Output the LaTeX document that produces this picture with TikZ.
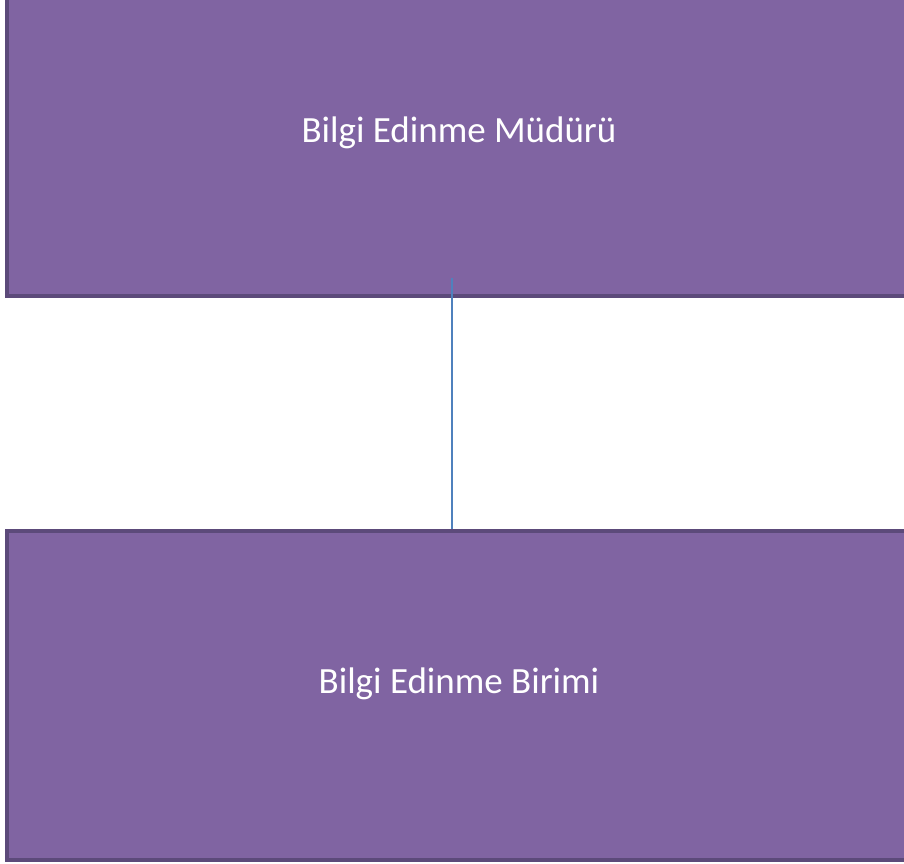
\documentclass[tikz,border=0pt]{standalone}
\usepackage{fontspec}
\setmainfont{Carlito}
\usetikzlibrary{positioning}
\definecolor{boxfill}{HTML}{8064A2}
\definecolor{boxline}{HTML}{5C4A7A}
\definecolor{linkblue}{HTML}{4F81BD}
\begin{document}
\begin{tikzpicture}[x=1pt, y=-1pt]
			
			% Frame of the picture
			\useasboundingbox (0,0) rectangle (904,863);
			
			% Define custom style for the unit boxes
			\tikzstyle{unit} = [rectangle, draw=boxline, line width=4pt, fill=boxfill, text=white,
			minimum width=904pt, minimum height=326pt, inner sep=0pt, font=\fontsize{37}{44}\selectfont]
			
			% Boxes, one above the other
			\node[unit] (mudur) at (459,133) {Bilgi Edinme Müdürü};
			\node[unit, minimum height=329pt, text depth=30pt] (birim) at (459,695.5) {Bilgi Edinme Birimi};
			
			% Line joining the boxes
			\coordinate (start) at ([xshift=-7pt, yshift=20pt]mudur.south);
			\draw[linkblue, line width=2pt] (start) -- (start |- birim.north);
			
		\end{tikzpicture}
\end{document}
